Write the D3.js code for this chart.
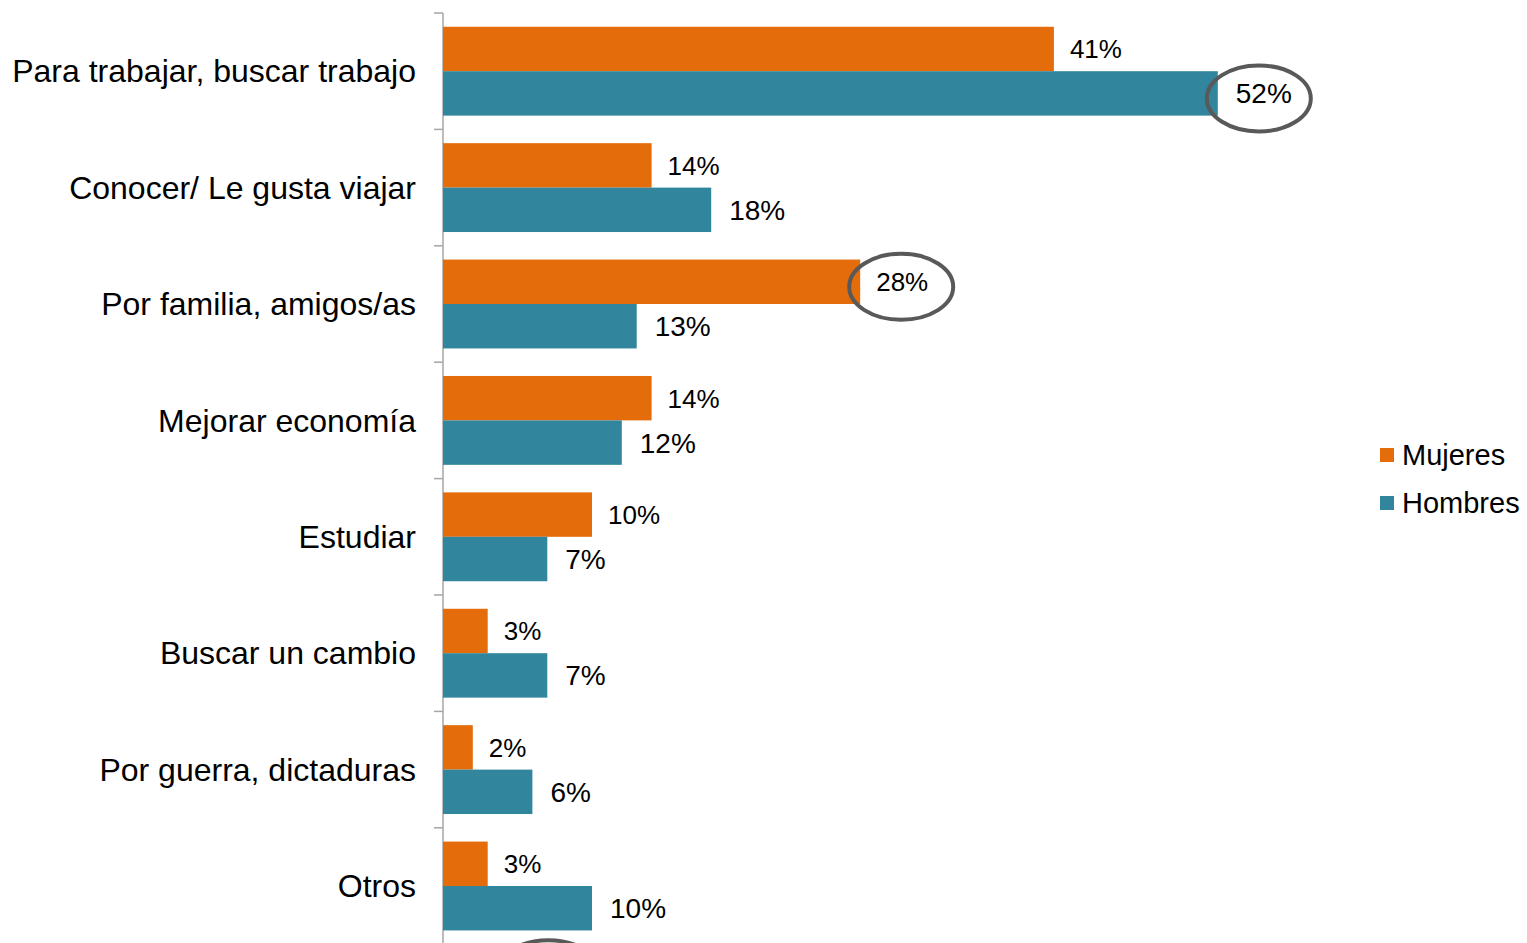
<!DOCTYPE html>
<html>
<head>
<meta charset="utf-8">
<script src="https://cdn.jsdelivr.net/npm/d3@7"></script>
<style>
  body { margin: 0; background: #fff; }
  svg text { font-family: "Liberation Sans", Arial, sans-serif; fill: #000; }
</style>
</head>
<body>
<div id="chart"></div>
<script>
// data
var categories = ["Para trabajar, buscar trabajo", "Conocer/ Le gusta viajar", "Por familia, amigos/as",
  "Mejorar economía", "Estudiar", "Buscar un cambio", "Por guerra, dictaduras", "Otros"];
var mujeres = [41, 14, 28, 14, 10, 3, 2, 3];
var hombres = [52, 18, 13, 12, 7, 7, 6, 10];
var seriesNames = ["Mujeres", "Hombres"];
var seriesColors = ["#E46C0A", "#31859C"];
// circled labels: [series index, category index]
var circled = [[1, 0], [0, 2]];

var W = 1527, H = 943;
var svg = d3.select("#chart").append("svg")
  .attr("width", W).attr("height", H);

var x = d3.scaleLinear().domain([0, 60]).range([443, 443 + 14.9 * 60]);
var y = d3.scaleBand().domain(categories).range([13, 13 + 116.4 * 8]).padding(0);
var ySub = d3.scaleBand().domain(seriesNames).range([0, y.bandwidth()])
  .paddingInner(0).paddingOuter(0.31);

var rows = categories.map(function(c, i) {
  return { cat: c, vals: [mujeres[i], hombres[i]] };
});

// axis (category boundaries as ticks)
svg.append("line")
  .attr("x1", 443).attr("x2", 443)
  .attr("y1", y.range()[0]).attr("y2", H)
  .attr("stroke", "#A6A6A6").attr("stroke-width", 1.5);
var bounds = categories.map(function(c) { return y(c); });
svg.selectAll(".tick").data(bounds).enter().append("line")
  .attr("x1", 434).attr("x2", 443)
  .attr("y1", function(d) { return d; }).attr("y2", function(d) { return d; })
  .attr("stroke", "#A6A6A6").attr("stroke-width", 1.5);

// category labels
svg.selectAll(".cat").data(categories).enter().append("text")
  .attr("x", 416)
  .attr("y", function(d) { return y(d) + y.bandwidth() / 2; })
  .attr("dy", "0.35em")
  .attr("text-anchor", "end")
  .style("font-size", "32px")
  .text(function(d) { return d; });

// bars
var g = svg.selectAll(".row").data(rows).enter().append("g")
  .attr("transform", function(d) { return "translate(0," + y(d.cat) + ")"; });

g.selectAll("rect").data(function(d) { return d.vals; }).enter().append("rect")
  .attr("x", x(0))
  .attr("y", function(d, j) { return ySub(seriesNames[j]); })
  .attr("width", function(d) { return x(d) - x(0); })
  .attr("height", ySub.bandwidth())
  .attr("fill", function(d, j) { return seriesColors[j]; });

var labelSize = ["26px", "28px"];
var labelGap = [16, 18];
g.selectAll(".val").data(function(d, i) {
    return d.vals.map(function(v, j) { return { v: v, j: j, i: i }; });
  }).enter().append("text")
  .attr("class", "val")
  .attr("x", function(d) { return x(d.v) + labelGap[d.j]; })
  .attr("y", function(d) { return ySub(seriesNames[d.j]) + ySub.bandwidth() / 2; })
  .attr("dy", "0.36em")
  .style("font-size", function(d) { return labelSize[d.j]; })
  .text(function(d) { return d.v + "%"; });

// ellipses around highlighted labels
circled.forEach(function(c) {
  var j = c[0], i = c[1];
  var v = j === 0 ? mujeres[i] : hombres[i];
  var cx = x(v) + 41;
  var cy = y(categories[i]) + ySub(seriesNames[j]) + ySub.bandwidth() / 2 + 5;
  svg.append("ellipse")
    .attr("cx", cx).attr("cy", cy)
    .attr("rx", 52).attr("ry", 33)
    .attr("fill", "none").attr("stroke", "#595959").attr("stroke-width", 4);
});
// ellipse of the next (cropped) category peeking in at the bottom
svg.append("ellipse")
  .attr("cx", x(7) + 1).attr("cy", y.range()[1] + 29)
  .attr("rx", 52).attr("ry", 33)
  .attr("fill", "none").attr("stroke", "#595959").attr("stroke-width", 4);

// legend
var leg = svg.selectAll(".leg").data(seriesNames).enter().append("g")
  .attr("transform", function(d, j) { return "translate(1380," + (455 + j * 48) + ")"; });
leg.append("rect")
  .attr("x", 0).attr("y", -7).attr("width", 14).attr("height", 14)
  .attr("fill", function(d, j) { return seriesColors[j]; });
leg.append("text")
  .attr("x", 22).attr("y", 0).attr("dy", "0.35em")
  .style("font-size", "29px")
  .text(function(d) { return d; });
</script>
</body>
</html>
